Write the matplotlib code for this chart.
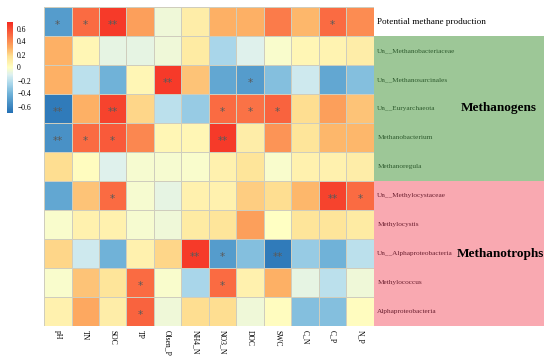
import numpy as np
import matplotlib
matplotlib.use("Agg")
import matplotlib.pyplot as plt
from matplotlib.patches import Rectangle
from matplotlib.colors import LinearSegmentedColormap

plt.rcParams['font.family'] = ['Liberation Serif', 'DejaVu Serif']

cols = ["pH", "TN", "SOC", "TP", "Olsen_P", "NH4_N", "NO3_N", "DOC", "SWC", "C_N", "C_P", "N_P"]
rows = ["Potential methane production",
        "Un__Methanobacteriaceae", "Un__Methanosarcinales", "Un__Euryarchaeota",
        "Methanobacterium", "Methanoregula",
        "Un__Methylocystaceae", "Methylocystis", "Un__Alphaproteobacteria",
        "Methylococcus", "Alphaproteobacteria"]

r_pmp = [-0.50, 0.50, 0.65, 0.35, -0.05, 0.10, 0.30, 0.30, 0.45, 0.28, 0.50, 0.40]
r_mbac = [0.30, 0.05, -0.08, -0.08, -0.05, 0.12, -0.25, -0.10, -0.02, 0.05, 0.07, 0.10]
r_msar = [0.30, -0.20, -0.40, 0.05, 0.65, 0.25, -0.45, -0.50, -0.35, -0.15, -0.45, -0.35]
r_eury = [-0.65, 0.30, 0.62, 0.20, -0.20, -0.30, 0.50, 0.48, 0.52, 0.18, 0.35, 0.25]
r_mbact = [-0.55, 0.50, 0.55, 0.42, 0.05, 0.05, 0.65, 0.10, 0.38, 0.15, 0.28, 0.28]
r_mreg = [0.18, 0.02, -0.10, -0.03, -0.03, -0.02, 0.08, 0.15, -0.02, 0.08, 0.08, 0.10]
r_mcys = [-0.45, 0.25, 0.50, -0.03, -0.08, 0.08, 0.08, 0.22, 0.18, 0.28, 0.62, 0.50]
r_mcyst = [-0.02, 0.08, 0.08, -0.03, -0.05, 0.12, 0.15, 0.35, 0.00, 0.15, 0.15, 0.12]
r_ualp = [0.20, -0.15, -0.40, 0.08, 0.20, 0.65, -0.50, -0.35, -0.65, -0.30, -0.40, -0.20]
r_mcoc = [-0.02, 0.25, 0.15, 0.50, -0.02, -0.25, 0.50, 0.08, 0.30, -0.08, -0.20, -0.05]
r_alp = [0.08, 0.32, 0.10, 0.52, -0.05, 0.18, 0.18, -0.05, 0.02, -0.35, -0.35, 0.02]

s_pmp = ["*", "*", "**", "", "", "", "", "", "", "", "*", ""]
s_mbac = [""] * 12
s_msar = ["", "", "", "", "**", "", "", "*", "", "", "", ""]
s_eury = ["**", "", "**", "", "", "", "*", "*", "*", "", "", ""]
s_mbact = ["**", "*", "*", "", "", "", "**", "", "", "", "", ""]
s_mreg = [""] * 12
s_mcys = ["", "", "*", "", "", "", "", "", "", "", "**", "*"]
s_mcyst = [""] * 12
s_ualp = ["", "", "", "", "", "**", "*", "", "**", "", "", ""]
s_mcoc = ["", "", "", "*", "", "", "*", "", "", "", "", ""]
s_alp = ["", "", "", "*", "", "", "", "", "", "", "", ""]

vals = np.array([r_pmp, r_mbac, r_msar, r_eury, r_mbact, r_mreg,
                 r_mcys, r_mcyst, r_ualp, r_mcoc, r_alp])
stars = [s_pmp, s_mbac, s_msar, s_eury, s_mbact, s_mreg,
         s_mcys, s_mcyst, s_ualp, s_mcoc, s_alp]

cmap = LinearSegmentedColormap.from_list(
    'ref', [(0.0, '#2470b4'), (0.2, '#6aaed6'), (0.32, '#a8d6ea'), (0.42, '#dcf0f0'),
            (0.5, '#ffffc4'), (0.62, '#fee295'), (0.72, '#fdad62'),
            (0.86, '#fa6a42'), (1.0, '#f42a20')])

fig = plt.figure(figsize=(5.5, 3.56), dpi=100)
ax = fig.add_axes([44/550, 1-326/356, 330/550, 319/356])
nr, nc = vals.shape
mesh = ax.pcolormesh(np.arange(nc+1), np.arange(nr+1), vals, cmap=cmap,
                     vmin=-0.7, vmax=0.7, edgecolors='#cfcdbd', linewidth=0.6)
ax.set_xlim(0, nc)
ax.set_ylim(nr, 0)
for i in range(nr):
    for j in range(nc):
        if stars[i][j]:
            ax.text(j+0.5, i+0.62, stars[i][j], ha='center', va='center',
                    fontsize=7.5, color='#5a5a5a', family='DejaVu Sans')
ax.set_xticks(np.arange(nc)+0.5)
ax.set_xticklabels(cols, rotation=-90, fontsize=5.5)
ax.set_yticks([])
ax.tick_params(axis='x', length=0, pad=3)
for s in ax.spines.values():
    s.set_visible(False)

# group panels
w = 170/27.5
ax.add_patch(Rectangle((nc, 1), w, 5, facecolor='#9dc797', edgecolor='none', clip_on=False, zorder=0))
ax.add_patch(Rectangle((nc, 6), w, 5, facecolor='#f9a9b1', edgecolor='none', clip_on=False, zorder=0))
for i, name in enumerate(rows):
    if i == 0:
        ax.text(nc+0.12, i+0.5, name, ha='left', va='center', fontsize=6.6, color='black', clip_on=False)
    else:
        col = '#2e5a2e' if i <= 5 else '#6b2030'
        ax.text(nc+0.12, i+0.5, name, ha='left', va='center', fontsize=5.2, color=col, clip_on=False)
ax.text(nc+3.15, 3.5, "Methanogens", ha='left', va='center', fontsize=9.5, fontweight='bold', clip_on=False)
ax.text(nc+3.02, 8.5, "Methanotrophs", ha='left', va='center', fontsize=9.5, fontweight='bold', clip_on=False)

cax = fig.add_axes([7/550, 1-113/356, 6/550, 91/356])
cb = fig.colorbar(mesh, cax=cax)
cb.set_ticks([-0.6, -0.4, -0.2, 0, 0.2, 0.4, 0.6])
cb.set_ticklabels(["\u22120.6", "\u22120.4", "\u22120.2", "0", "0.2", "0.4", "0.6"])
cb.ax.tick_params(labelsize=5.5, length=0, pad=3)
cb.outline.set_visible(False)

fig.savefig("out.png", dpi=100)
